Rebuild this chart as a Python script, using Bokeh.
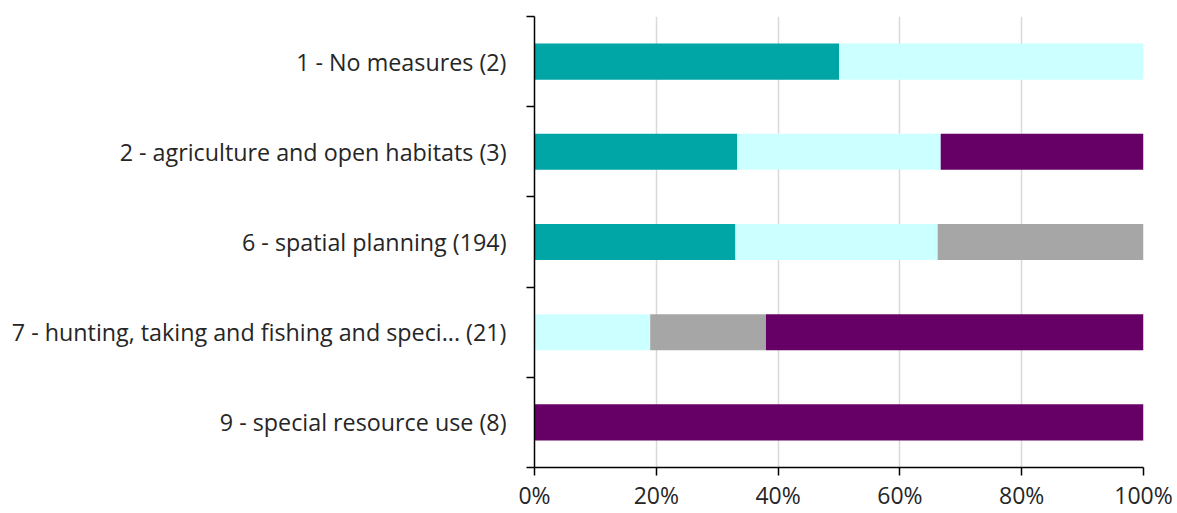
from bokeh.plotting import figure
from bokeh.models import Range1d, FixedTicker, PrintfTickFormatter, ColumnDataSource
from bokeh.embed import file_html
from bokeh.resources import INLINE

# ---- data (percent of each row) ----
categories = [
    "1 - No measures (2)",
    "2 - agriculture and open habitats (3)",
    "6 - spatial planning (194)",
    "7 - hunting, taking and fishing and speci... (21)",
    "9 - special resource use (8)",
]
series_names = ["teal", "cyan", "gray", "purple"]
teal = [50.0, 33.3, 33.0, 0.0, 0.0]
cyan = [50.0, 33.4, 33.2, 19.0, 0.0]
gray = [0.0, 0.0, 33.8, 19.0, 0.0]
purple = [0.0, 33.3, 0.0, 62.0, 100.0]
x_ticks = [0, 20, 40, 60, 80, 100]
colors = ["#00A6A6", "#CCFFFF", "#A6A6A6", "#660066"]

n = len(categories)
ypos = [n - i for i in range(n)]  # top category drawn at the top

source = ColumnDataSource(dict(y=ypos, teal=teal, cyan=cyan, gray=gray, purple=purple))

W, H = 1177, 513
p = figure(width=W, height=H, output_backend="svg", toolbar_location=None,
           x_range=Range1d(0, 100), y_range=Range1d(0.5, n + 0.5),
           min_border_left=534, min_border_right=34, min_border_top=16, min_border_bottom=46)
p.outline_line_color = None
p.background_fill_color = "white"
p.border_fill_color = "white"

p.hbar_stack(series_names, y="y", height=0.4, source=source,
             fill_color=colors, line_color=None)

FONT = "Open Sans"
TXT = "#262626"

# x axis
xa = p.xaxis[0]
xa.ticker = FixedTicker(ticks=x_ticks, minor_ticks=[])
xa.formatter = PrintfTickFormatter(format="%d%%")
xa.axis_line_color = "black"
xa.axis_line_width = 1.5
xa.major_tick_line_color = "black"
xa.major_tick_line_width = 1.5
xa.major_tick_out = 8
xa.major_tick_in = 0
xa.minor_tick_line_color = None
xa.major_label_text_font = FONT
xa.major_label_text_font_size = "23px"
xa.major_label_text_color = TXT
xa.major_label_standoff = 3

# y axis: labels at centers, ticks at category boundaries
ya = p.yaxis[0]
ya.ticker = FixedTicker(ticks=ypos, minor_ticks=[k + 0.5 for k in range(n + 1)])
ya.major_label_overrides = {y: c for y, c in zip(ypos, categories)}
ya.axis_line_color = "black"
ya.axis_line_width = 1.5
ya.major_tick_line_color = None
ya.major_tick_out = 0
ya.major_tick_in = 0
ya.minor_tick_line_color = "black"
ya.minor_tick_line_width = 1.5
ya.minor_tick_out = 8
ya.minor_tick_in = 0
ya.major_label_text_font = FONT
ya.major_label_text_font_size = "23.3px"
ya.major_label_text_color = TXT
ya.major_label_standoff = 20

p.xgrid.ticker = FixedTicker(ticks=x_ticks)
p.xgrid.grid_line_color = "#D9D9D9"
p.xgrid.grid_line_width = 1.5
p.ygrid.grid_line_color = None

open("out.html", "w").write(file_html(p, INLINE))
